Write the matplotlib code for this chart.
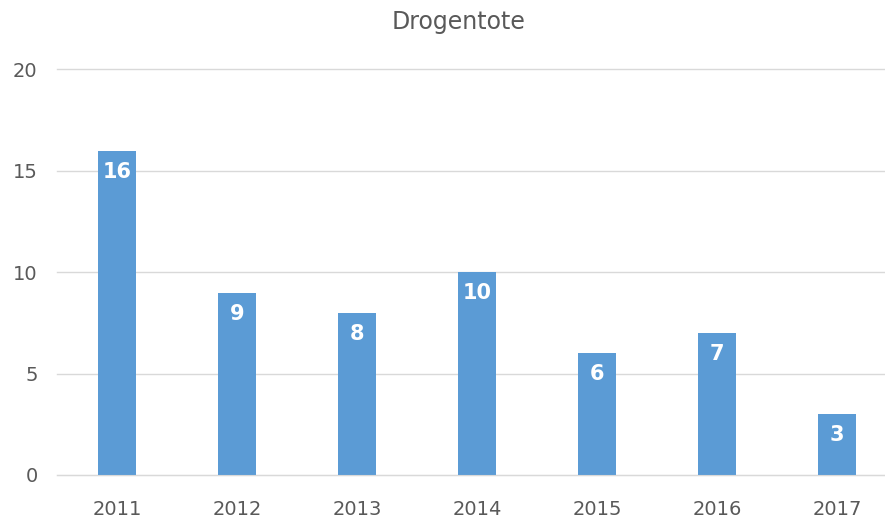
import matplotlib
matplotlib.use("Agg")
import matplotlib.pyplot as plt

years = ["2011", "2012", "2013", "2014", "2015", "2016", "2017"]
values = [16, 9, 8, 10, 6, 7, 3]
title = "Drogentote"

W, H = 885, 518
fig = plt.figure(figsize=(W / 100, H / 100), dpi=100)
ax = fig.add_axes([57 / W, (H - 475) / H, 840 / W, 405.5 / H])

x = list(range(len(years)))
ax.bar(x, values, width=0.31, color="#5B9BD5", zorder=2)
ax.set_xlim(-0.5, len(years) - 0.5)
ax.set_ylim(0, 20)
ax.set_yticks([0, 5, 10, 15, 20])
ax.set_xticks(x)
ax.set_xticklabels(years)
ax.grid(axis="y", color="#D9D9D9", linewidth=1, zorder=0)
for gl in ax.get_ygridlines():
    gl.set_clip_on(False)
for s in ["top", "right", "left"]:
    ax.spines[s].set_visible(False)
ax.spines["bottom"].set_color("#D9D9D9")
ax.tick_params(length=0, labelsize=14, labelcolor="#595959")
ax.tick_params(axis="y", pad=14)
ax.tick_params(axis="x", pad=18)

for xi, v in zip(x, values):
    ax.annotate(str(v), (xi, v), xytext=(0, -21), textcoords="offset pixels",
                ha="center", va="center", color="white", fontsize=15, fontweight="bold")

fig.text(459 / W, 1 - 22 / H, title, ha="center", va="center", fontsize=17, color="#595959")
fig.savefig("out.png", dpi=100)
